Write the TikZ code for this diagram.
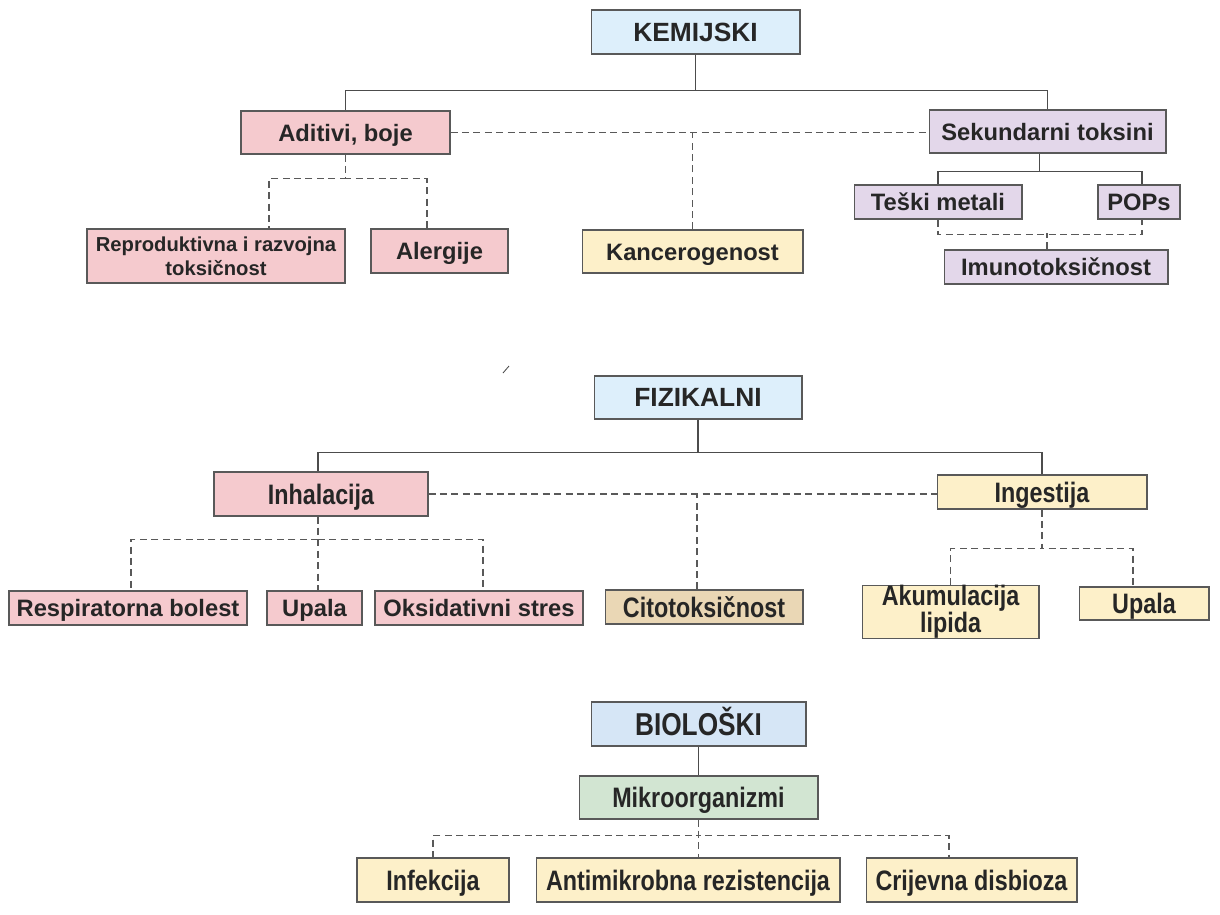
\documentclass[tikz,border=0pt]{standalone}
\usepackage{fontspec}
\setmainfont{Liberation Sans}
\newfontfamily\narrowfont[FakeStretch=0.83]{Liberation Sans}
\definecolor{headblue}{HTML}{DDEFFB}
\definecolor{bioblue}{HTML}{D6E6F6}
\definecolor{rose}{HTML}{F5CACE}
\definecolor{lilac}{HTML}{E3D7EA}
\definecolor{cream}{HTML}{FDF0C9}
\definecolor{tan}{HTML}{EAD7B5}
\definecolor{sage}{HTML}{D2E5D2}
\definecolor{ink}{HTML}{262626}

\begin{document}
\begin{tikzpicture}[x=0.02cm,y=-0.02cm,
  box/.style={draw=black!65,line width=0.6pt,inner sep=0pt,align=center,text=ink,
    text height=9.7pt,text depth=0pt,font=\bfseries\fontsize{13.5}{15}\selectfont},
  twoline/.style={text height={},text depth={}},
  head/.style={box,text height=10.7pt,font=\bfseries\fontsize{15}{17}\selectfont},
  slim/.style={box,text height=11.5pt,font=\narrowfont\bfseries\fontsize{16}{17}\selectfont},
  tree/.style={draw=black!70,line width=0.6pt},
  dashlink/.style={draw=black!65,line width=0.6pt,dash pattern=on 4pt off 2.5pt}]
  \useasboundingbox (0,0) rectangle (1220,914);

  % KEMIJSKI
  \node[head,fill=headblue,minimum width=4.18cm,minimum height=0.88cm] (kem) at (695.5,32) {KEMIJSKI};
  \node[box,fill=rose,minimum width=4.18cm,minimum height=0.86cm] (adit) at (345.5,132.5) {Aditivi, boje};
  \node[box,fill=lilac,minimum width=4.74cm,minimum height=0.86cm] (sek) at (1047.5,131.5) {Sekundarni toksini};
  \node[box,fill=lilac,minimum width=3.36cm,minimum height=0.68cm] (teski) at (938,202) {Teški metali};
  \node[box,fill=lilac,minimum width=1.64cm,minimum height=0.68cm] (pops) at (1139,202) {POPs};
  \node[box,fill=lilac,minimum width=4.48cm,minimum height=0.68cm] (imuno) at (1056,267) {Imunotoksičnost};
  \node[box,twoline,fill=rose,minimum width=5.16cm,minimum height=1.08cm,font=\bfseries\fontsize{11.5}{13.5}\selectfont] (repro) at (216,256) {Reproduktivna i razvojna\\toksičnost};
  \node[box,fill=rose,minimum width=2.74cm,minimum height=0.88cm] (alerg) at (439.5,251) {Alergije};
  \node[box,fill=cream,minimum width=4.42cm,minimum height=0.86cm] (kanc) at (692.5,251.5) {Kancerogenost};

  \draw[tree] (kem.south) -- ++(0,36) -| (adit.north);
  \draw[tree] (kem.south) -- ++(0,36) -| (sek.north);
  \draw[dashlink] (adit.east) -- (adit.east -| sek.west);
  \draw[dashlink] (kanc.north) -- (kanc.north |- adit.east);
  \draw[dashlink] (adit.south) -- ++(0,24) -| ([xshift=1.06cm]repro.north);
  \draw[dashlink] (adit.south) -- ++(0,24) -| ([xshift=-0.25cm]alerg.north);
  \draw[tree] ([xshift=-0.16cm]sek.south) -- ++(0,18) -| (teski.north);
  \draw[tree] ([xshift=-0.16cm]sek.south) -- ++(0,18) -| ([xshift=0.06cm]pops.north);
  \draw[dashlink] (teski.south) -- ++(0,15) -| ([xshift=0.06cm]pops.south);
  \draw[dashlink] ([xshift=-0.18cm]imuno.north) -- ++(0,-16);

  \draw[black!70,line width=0.5pt] (503,373) -- (509,366);

  % FIZIKALNI
  \node[head,fill=headblue,minimum width=4.16cm,minimum height=0.86cm] (fiz) at (698,397.5) {FIZIKALNI};
  \node[slim,fill=rose,minimum width=4.28cm,minimum height=0.88cm] (inhal) at (321,494) {Inhalacija};
  \node[slim,fill=cream,minimum width=4.2cm,minimum height=0.68cm] (inges) at (1042,492) {Ingestija};
  \node[slim,fill=tan,minimum width=3.96cm,minimum height=0.68cm] (cito) at (704,607) {Citotoksičnost};
  \node[box,fill=rose,minimum width=4.76cm,minimum height=0.68cm] (resp) at (128,608) {Respiratorna bolest};
  \node[box,fill=rose,minimum width=1.9cm,minimum height=0.68cm] (upala) at (314.5,608) {Upala};
  \node[box,fill=rose,minimum width=4.16cm,minimum height=0.68cm] (oksid) at (479,608) {Oksidativni stres};
  \node[slim,twoline,fill=cream,minimum width=3.54cm,minimum height=1.04cm,font=\narrowfont\bfseries\fontsize{16}{15.5}\selectfont] (akum) at (950.5,612) {Akumulacija\\lipida};
  \node[slim,fill=cream,minimum width=2.6cm,minimum height=0.66cm] (upalb) at (1144,603.5) {Upala};

  \draw[tree] (fiz.south) -- ++(0,33) -| ([xshift=-0.06cm]inhal.north);
  \draw[tree] (fiz.south) -- ++(0,33) -| (inges.north);
  \draw[dashlink] (inhal.east) -- (inhal.east -| inges.west);
  \draw[dashlink] ([xshift=-0.14cm]cito.north) -- ([xshift=-0.14cm]cito.north |- inhal.east);
  \draw[dashlink] ([xshift=-0.06cm]inhal.south) -- ([xshift=-0.06cm]inhal.south |- upala.north);
  \draw[dashlink] ([xshift=-0.06cm]inhal.south) -- ++(0,23) -| ([xshift=0.06cm]resp.north);
  \draw[dashlink] ([xshift=-0.06cm]inhal.south) -- ++(0,23) -| ([xshift=0.08cm]oksid.north);
  \draw[dashlink] (inges.south) -- ++(0,39) -| (akum.north);
  \draw[dashlink] (inges.south) -- ++(0,39) -| ([xshift=-0.22cm]upalb.north);

  % BIOLOSKI
  \node[slim,fill=bioblue,minimum width=4.3cm,minimum height=0.88cm,text height=12.9pt,font=\narrowfont\bfseries\fontsize{18}{20}\selectfont] (bio) at (698.5,724) {BIOLOŠKI};
  \node[slim,fill=sage,minimum width=4.78cm,minimum height=0.86cm] (mikro) at (698.5,797.5) {Mikroorganizmi};
  \node[slim,fill=cream,minimum width=3.04cm,minimum height=0.88cm] (infek) at (433,880) {Infekcija};
  \node[slim,fill=cream,minimum width=6.08cm,minimum height=0.88cm] (anti) at (688,880) {Antimikrobna rezistencija};
  \node[slim,fill=cream,minimum width=4.22cm,minimum height=0.88cm] (crij) at (971.5,880) {Crijevna disbioza};

  \draw[tree] (bio.south) -- (mikro.north);
  \draw[dashlink] (mikro.south) -- (mikro.south |- anti.north);
  \draw[dashlink] (mikro.south) -- ++(0,16) -| (infek.north);
  \draw[dashlink] (mikro.south) -- ++(0,16) -| ([xshift=-0.45cm]crij.north);
\end{tikzpicture}
\end{document}
